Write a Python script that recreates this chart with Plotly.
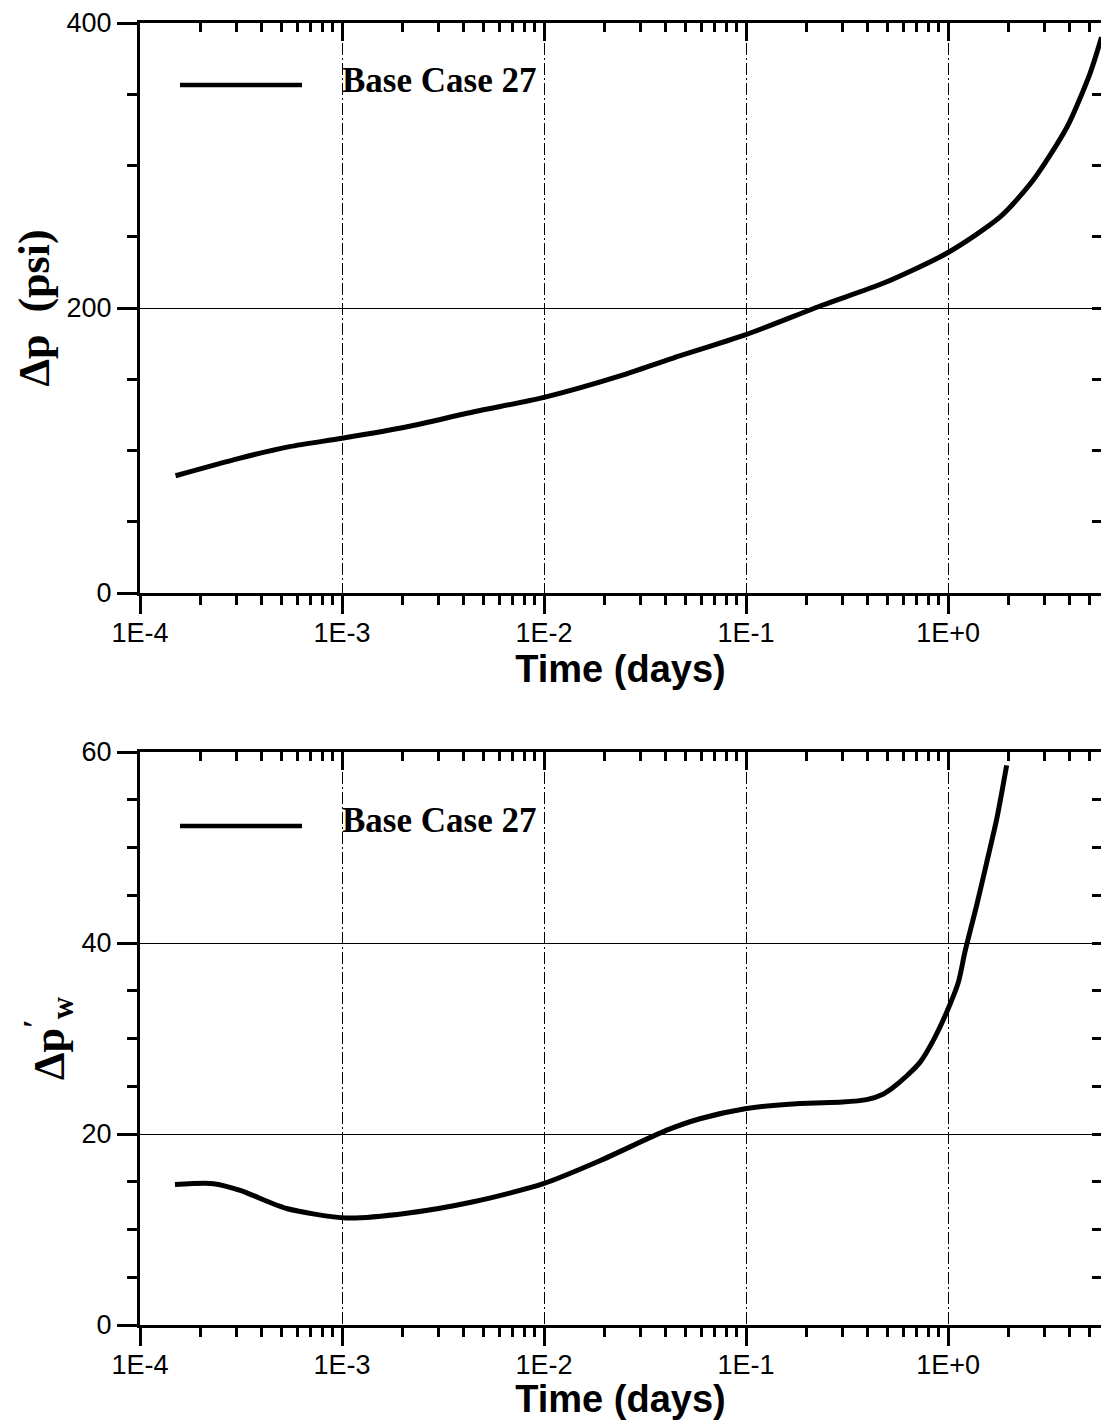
import plotly.graph_objects as go

# ---------------- data ----------------
# Top panel: pressure change vs time
time_dp = [1.5e-4, 3.1e-4, 5.5e-4, 1.0e-3, 2.1e-3, 4.5e-3, 9.9e-3, 0.0238, 0.0436,
           0.099, 0.24, 0.48, 0.99, 1.81, 2.64, 3.88, 5.05, 5.75]
dp_psi = [82.3, 94.5, 102.7, 108.6, 116.7, 127.2, 137.1, 152.3, 164.9,
          181.1, 202.1, 217.5, 238.6, 263.9, 289.8, 327.0, 364.9, 390.0]

# Bottom panel: pressure derivative vs time
time_der = [1.49e-4, 2.31e-4, 3.13e-4, 5.32e-4, 1.05e-3, 2.09e-3, 4.47e-3, 9.93e-3,
            0.0189, 0.0405, 0.0591, 0.099, 0.185, 0.300, 0.395, 0.479, 0.536, 0.625,
            0.726, 0.845, 1.0, 1.125, 1.213, 1.387, 1.556, 1.742, 1.95]
dp_der = [14.7, 14.8, 14.1, 12.2, 11.2, 11.7, 12.9, 14.8,
          17.2, 20.4, 21.6, 22.65, 23.2, 23.35, 23.6, 24.2, 24.9, 26.1,
          27.5, 29.8, 33.1, 35.9, 39.1, 44.0, 48.5, 53.0, 58.6]

series_name = "Base Case 27"
x_tickvals = [1e-4, 1e-3, 1e-2, 1e-1, 1e0]
x_ticktext = ["1E-4", "1E-3", "1E-2", "1E-1", "1E+0"]
x_minor = [k * 10.0 ** n for n in range(-4, 1) for k in range(2, 10)]
x_range = [-4, 0.757]
top_yrange = [0, 400]
bot_yrange = [0, 60]

# ---------------- figure ----------------
W, H = 1101, 1420
X0 = 140 / W
top_dom = [1 - 593 / H, 1 - 23 / H]
bot_dom = [1 - 1325 / H, 1 - 752 / H]

fig = go.Figure()
line_style = dict(color="black", width=5, shape="spline", smoothing=0.7)
fig.add_trace(go.Scatter(x=time_dp, y=dp_psi, mode="lines", name=series_name,
                         line=line_style, xaxis="x", yaxis="y", showlegend=False))
fig.add_trace(go.Scatter(x=time_der, y=dp_der, mode="lines", name=series_name,
                         line=line_style, xaxis="x2", yaxis="y2", showlegend=False))
# invisible copies so the frame (top / right) axes get drawn
fig.add_trace(go.Scatter(x=time_dp, y=dp_psi, mode="lines", opacity=0, hoverinfo="skip",
                         xaxis="x3", yaxis="y3", showlegend=False))
fig.add_trace(go.Scatter(x=time_der, y=dp_der, mode="lines", opacity=0, hoverinfo="skip",
                         xaxis="x4", yaxis="y4", showlegend=False))

tick_font = dict(family="Liberation Sans, Arial", size=27, color="black")
title_x_font = dict(family="Liberation Sans, Arial", size=38, color="black", weight="bold")
title_y_font = dict(family="Liberation Serif, Times New Roman", size=44, color="black", weight="bold")
grid_dash = "12px,3px,2px,3px"


def xbottom(anchor, title):
    return dict(type="log", domain=[X0, 1.0], range=x_range, anchor=anchor, automargin=False,
                tickmode="array", tickvals=x_tickvals, ticktext=x_ticktext,
                ticks="outside", ticklen=18, tickwidth=2.5, tickcolor="black",
                ticklabelstandoff=-4,
                minor=dict(tickmode="array", tickvals=x_minor, ticks="outside",
                           ticklen=9, tickwidth=2.5, tickcolor="black", showgrid=False),
                showline=True, linecolor="black", linewidth=3,
                showgrid=True, gridcolor="black", gridwidth=1.1, griddash=grid_dash,
                tickfont=tick_font, zeroline=False,
                title=dict(text=title, font=title_x_font, standoff=0))


def xtop(overlay, anchor):
    return dict(type="log", domain=[X0, 1.0], range=x_range, anchor=anchor, automargin=False,
                overlaying=overlay, side="top", matches=overlay,
                tickmode="array", tickvals=x_tickvals, showticklabels=False,
                ticks="inside", ticklen=18, tickwidth=2.5, tickcolor="black",
                minor=dict(tickmode="array", tickvals=x_minor, ticks="inside",
                           ticklen=9, tickwidth=2.5, tickcolor="black", showgrid=False),
                showline=True, linecolor="black", linewidth=3, showgrid=False, zeroline=False)


def yleft(anchor, dom, rng, dtick, mdt, title):
    return dict(domain=dom, range=rng, anchor=anchor, dtick=dtick, tick0=0, automargin=False,
                ticks="outside", ticklen=20, tickwidth=2.5, tickcolor="black",
                minor=dict(dtick=mdt, ticks="outside", ticklen=10, tickwidth=2.5,
                           tickcolor="black", showgrid=False),
                showline=True, linecolor="black", linewidth=3,
                showgrid=True, gridcolor="black", gridwidth=1.3,
                tickfont=tick_font, zeroline=False,
                title=dict(text=title, font=title_y_font, standoff=4))


def yright(overlay, anchor, dom, rng, dtick, mdt):
    return dict(domain=dom, range=rng, anchor=anchor, overlaying=overlay, side="right",
                matches=overlay, dtick=dtick, tick0=0, showticklabels=False, automargin=False,
                ticks="inside", ticklen=9, tickwidth=2.5, tickcolor="black",
                minor=dict(dtick=mdt, ticks="inside", ticklen=9, tickwidth=2.5,
                           tickcolor="black", showgrid=False),
                showline=False, showgrid=False, zeroline=False)


fig.update_layout(
    width=W, height=H, margin=dict(l=0, r=0, t=0, b=0, autoexpand=False),
    paper_bgcolor="white", plot_bgcolor="white", showlegend=False,
    xaxis=xbottom("y", "Time (days)"),
    yaxis=yleft("x", top_dom, top_yrange, 200, 50, "Δp  (psi)"),
    xaxis2=xbottom("y2", "Time (days)"),
    yaxis2=yleft("x2", bot_dom, bot_yrange, 20, 5, "Δp<sup>′</sup><sub>w</sub>"),
    xaxis3=xtop("x", "y"),
    yaxis3=yright("y", "x", top_dom, top_yrange, 200, 50),
    xaxis4=xtop("x2", "y2"),
    yaxis4=yright("y2", "x2", bot_dom, bot_yrange, 20, 5),
)

# legend samples (line + label) in each panel
legend_font = dict(family="Liberation Serif, Times New Roman", size=35, color="black", weight="bold")
for ly_line, ly_text in [(85, 80), (826, 820)]:
    fig.add_shape(type="line", xref="paper", yref="paper",
                  x0=180 / W, x1=302 / W, y0=1 - ly_line / H, y1=1 - ly_line / H,
                  line=dict(color="black", width=4.5))
    fig.add_annotation(text=series_name, xref="paper", yref="paper",
                       x=340 / W, y=1 - ly_text / H, xanchor="left", yanchor="middle",
                       showarrow=False, font=legend_font)

fig.write_html("out.html", config={"displayModeBar": False},
               post_script="document.body.style.margin='0';document.body.style.overflow='hidden';")
